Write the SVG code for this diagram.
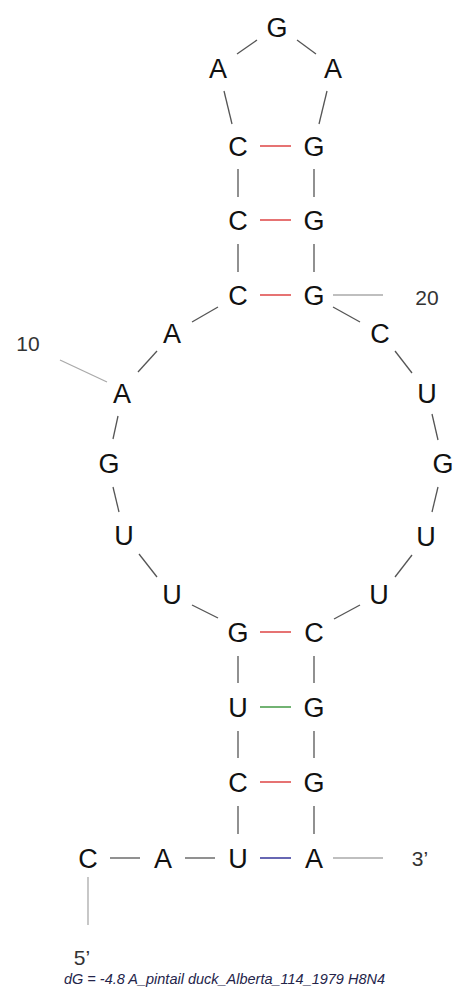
<svg xmlns="http://www.w3.org/2000/svg" width="464" height="988" viewBox="0 0 464 988">
<style>
.nt{font-family:"Liberation Sans",Arial,sans-serif;font-size:27px;fill:#111;text-anchor:middle}
.lbl{font-family:"Liberation Sans",Arial,sans-serif;font-size:21px;fill:#333;text-anchor:middle}
.bb{stroke:#555;stroke-width:1.3;fill:none}
.tk{stroke:#aaa;stroke-width:1.3;fill:none}
.gc{stroke:#e05050;stroke-width:1.6}
.gu{stroke:#4fa050;stroke-width:1.6}
.au{stroke:#4040a0;stroke-width:1.6}
.cap{font-family:"Liberation Sans",Arial,sans-serif;font-size:14px;font-style:italic;fill:#24244a}
</style>
<rect width="464" height="988" fill="#fff"/>
<g id="connectors">
<line class="bb" x1="110" y1="858" x2="140" y2="858"/>
<line class="bb" x1="185" y1="858" x2="215" y2="858"/>
<line class="bb" x1="238" y1="834" x2="238" y2="806"/>
<line class="bb" x1="238" y1="758" x2="238" y2="731"/>
<line class="bb" x1="238" y1="683" x2="238" y2="656"/>
<line class="bb" x1="218" y1="618" x2="192" y2="605"/>
<line class="bb" x1="157" y1="577" x2="139" y2="554"/>
<line class="bb" x1="119" y1="512" x2="113" y2="487"/>
<line class="bb" x1="113" y1="439" x2="118" y2="416"/>
<line class="bb" x1="138" y1="372" x2="157" y2="351"/>
<line class="bb" x1="192" y1="322" x2="218" y2="307"/>
<line class="bb" x1="238" y1="272" x2="238" y2="244"/>
<line class="bb" x1="238" y1="197" x2="238" y2="169"/>
<line class="bb" x1="232" y1="124" x2="224" y2="91"/>
<line class="bb" x1="237" y1="54" x2="257" y2="40"/>
<line class="bb" x1="297" y1="40" x2="316" y2="54"/>
<line class="bb" x1="327" y1="91" x2="319" y2="124"/>
<line class="bb" x1="314" y1="169" x2="314" y2="197"/>
<line class="bb" x1="314" y1="244" x2="314" y2="272"/>
<line class="bb" x1="333" y1="307" x2="360" y2="322"/>
<line class="bb" x1="395" y1="351" x2="412" y2="373"/>
<line class="bb" x1="432" y1="414" x2="438" y2="440"/>
<line class="bb" x1="438" y1="487" x2="432" y2="512"/>
<line class="bb" x1="412" y1="555" x2="395" y2="577"/>
<line class="bb" x1="360" y1="605" x2="334" y2="619"/>
<line class="bb" x1="314" y1="656" x2="314" y2="683"/>
<line class="bb" x1="314" y1="731" x2="314" y2="758"/>
<line class="bb" x1="314" y1="806" x2="314" y2="834"/>
<line class="gc" x1="260" y1="146" x2="291" y2="146"/>
<line class="gc" x1="260" y1="220" x2="291" y2="220"/>
<line class="gc" x1="260" y1="295" x2="291" y2="295"/>
<line class="gc" x1="260" y1="632" x2="291" y2="632"/>
<line class="gu" x1="260" y1="707" x2="291" y2="707"/>
<line class="gc" x1="260" y1="782" x2="291" y2="782"/>
<line class="au" x1="260" y1="858" x2="291" y2="858"/>
<line class="tk" x1="60" y1="360" x2="107" y2="382"/>
<line class="tk" x1="333" y1="295" x2="383" y2="295"/>
<line class="tk" x1="333" y1="858" x2="383" y2="858"/>
<line class="tk" x1="88" y1="877" x2="88" y2="925"/>
</g>
<g id="n1"><text class="nt" x="88" y="868">C</text></g>
<g id="n2"><text class="nt" x="163" y="868">A</text></g>
<g id="n3"><text class="nt" x="238" y="868">U</text></g>
<g id="n4"><text class="nt" x="238" y="792">C</text></g>
<g id="n5"><text class="nt" x="238" y="717">U</text></g>
<g id="n6"><text class="nt" x="238" y="642">G</text></g>
<g id="n7"><text class="nt" x="172" y="604">U</text></g>
<g id="n8"><text class="nt" x="124" y="545">U</text></g>
<g id="n9"><text class="nt" x="109" y="473">G</text></g>
<g id="n10"><text class="nt" x="122" y="403">A</text></g>
<g id="n11"><text class="nt" x="172" y="343">A</text></g>
<g id="n12"><text class="nt" x="238" y="305">C</text></g>
<g id="n13"><text class="nt" x="238" y="230">C</text></g>
<g id="n14"><text class="nt" x="238" y="156">C</text></g>
<g id="n15"><text class="nt" x="218" y="78">A</text></g>
<g id="n16"><text class="nt" x="277" y="37">G</text></g>
<g id="n17"><text class="nt" x="333" y="78">A</text></g>
<g id="n18"><text class="nt" x="314" y="156">G</text></g>
<g id="n19"><text class="nt" x="314" y="230">G</text></g>
<g id="n20"><text class="nt" x="314" y="305">G</text></g>
<g id="n21"><text class="nt" x="380" y="343">C</text></g>
<g id="n22"><text class="nt" x="427" y="403">U</text></g>
<g id="n23"><text class="nt" x="443" y="473">G</text></g>
<g id="n24"><text class="nt" x="426" y="546">U</text></g>
<g id="n25"><text class="nt" x="379" y="604">U</text></g>
<g id="n26"><text class="nt" x="314" y="642">C</text></g>
<g id="n27"><text class="nt" x="314" y="717">G</text></g>
<g id="n28"><text class="nt" x="314" y="792">G</text></g>
<g id="n29"><text class="nt" x="314" y="868">A</text></g>
<g id="labels">
<text class="lbl" x="28" y="351">10</text>
<text class="lbl" x="427" y="305">20</text>
<text class="lbl" x="420" y="866">3’</text>
<text class="lbl" x="82" y="965">5’</text>
<text class="cap" x="64" y="984" textLength="321" lengthAdjust="spacingAndGlyphs">dG = -4.8 A_pintail duck_Alberta_114_1979 H8N4</text>
</g>
</svg>
